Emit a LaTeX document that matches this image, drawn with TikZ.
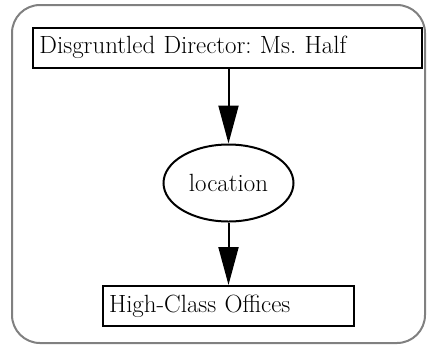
\documentclass[tikz,border=0pt]{standalone}
\usepackage{fontspec}
\usetikzlibrary{shapes.geometric,arrows.meta}
\begin{document}
\frenchspacing
\begin{tikzpicture}[x=1bp, y=-1bp,
    every node/.style={font=\fontsize{25}{29}\selectfont},
    box/.style={draw, line width=2bp, minimum height=40bp, inner xsep=6bp,
                inner ysep=0pt, align=left},
    topic/.style={draw, ellipse, line width=2bp, minimum width=130bp,
                  minimum height=77bp, inner sep=0pt},
    link/.style={-{Triangle[length=38bp, width=20bp]}, line width=2bp},
]
\useasboundingbox (0,0) rectangle (433,349);
% Frame
\draw[gray, line width=2bp, rounded corners=28bp] (12,5) rectangle (425,343);

% Nodes
\node[box, text width=376bp] (director) at (227.5,47.5)
    {Disgruntled Director: Ms. Half};
\node[topic] (location) at (228.5,183) {location};
\node[box, text width=239bp] (offices) at (228.5,306)
    {High-Class Offices};

% Links
\draw[link] (director.south -| location.north) -- (location.north);
\draw[link] (location.south) -- (location.south |- offices.north);
\end{tikzpicture}
\end{document}
